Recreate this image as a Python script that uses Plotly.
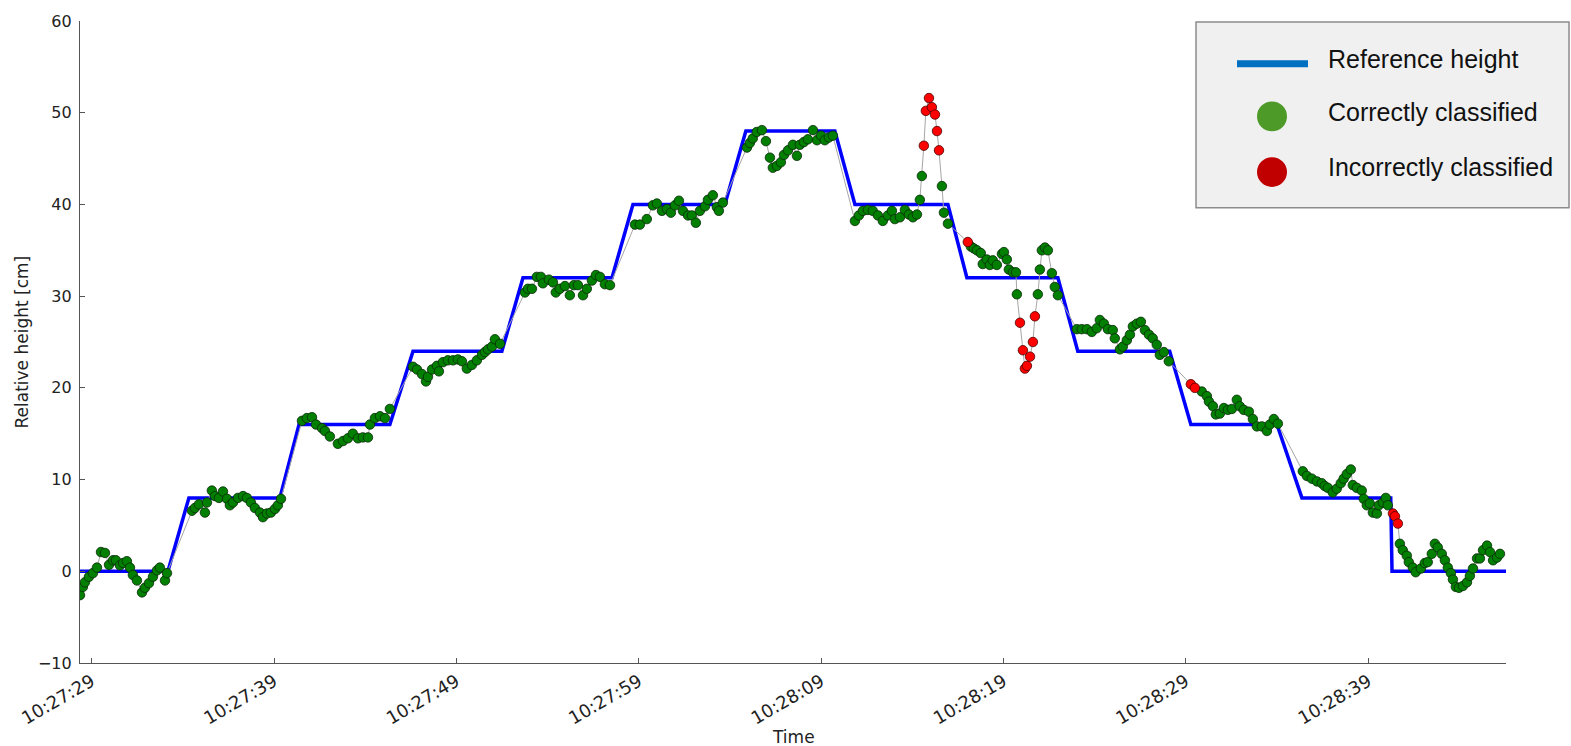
import datetime as dt
import plotly.graph_objects as go

# Clock start of the recording (tick "10:27:29")
START = dt.datetime(2016, 1, 1, 10, 27, 29)

# Reference (commanded) height profile: seconds after start, height in cm
ref_sec = [-0.64, 4.18, 5.33, 10.32, 11.37, 16.35, 17.62, 22.49, 23.65, 28.53,
           29.68, 34.72, 35.87, 40.75, 41.85, 46.95, 47.99, 52.98, 54.07, 59.11,
           60.27, 64.99, 66.36, 71.23, 71.30, 77.55]
ref_cm = [0, 0, 8, 8, 16, 16, 24, 24, 32, 32,
          40, 40, 48, 48, 40, 40, 32, 32, 24, 24,
          16, 16, 8, 8, 0, 0]

# Estimated heights that were classified correctly
ok_sec = [
    -0.64, -0.48, -0.37, -0.15, 0.07, 0.29, 0.51, 0.73, 0.95, 1.17, 1.33, 1.55, 1.72,
    1.93, 2.10, 2.26, 2.48, 2.76, 2.92, 3.14, 3.36, 3.58, 3.74, 4.02, 4.13,
    5.50, 5.66, 5.88, 6.21, 6.32, 6.59, 6.76, 6.98, 7.20, 7.42, 7.58, 7.75, 8.02,
    8.30, 8.51, 8.73, 8.95, 9.23, 9.39, 9.61, 9.83, 10.05, 10.21, 10.38,
    11.53, 11.80, 12.08, 12.30, 12.63, 12.79, 13.06, 13.50, 13.78, 14.05, 14.32,
    14.60, 14.87, 15.15, 15.26, 15.53, 15.81, 16.08, 16.35,
    17.62, 17.84, 18.11, 18.33, 18.44, 18.66, 18.93, 19.04, 19.26, 19.53, 19.81,
    20.08, 20.30, 20.57, 20.85, 21.12, 21.40, 21.56, 21.73, 21.95, 22.11, 22.39,
    23.76, 23.92, 24.14, 24.41, 24.63, 24.74, 25.07, 25.29, 25.45, 25.67, 25.95,
    26.22, 26.44, 26.66, 26.94, 27.15, 27.43, 27.65, 27.87, 28.14, 28.42,
    29.79, 30.06, 30.44, 30.77, 30.99, 31.27, 31.54, 31.76, 31.98, 32.20, 32.42,
    32.70, 32.91, 33.13, 33.35, 33.63, 33.79, 34.06, 34.28, 34.39, 34.61,
    35.93, 36.09, 36.25, 36.47, 36.75, 36.97, 37.19, 37.35, 37.57, 37.79, 37.96,
    38.18, 38.45, 38.67, 38.83, 39.05, 39.27, 39.55, 39.77, 39.99, 40.20, 40.42, 40.64,
    41.85, 42.07, 42.29, 42.56, 42.83, 43.11, 43.38, 43.66, 43.88, 44.04, 44.32,
    44.59, 44.81, 45.03, 45.25, 45.41, 45.52,
    46.62, 46.73, 46.95,
    48.21, 48.37, 48.54, 48.75, 48.86, 49.08, 49.25, 49.41, 49.63, 49.91, 50.02,
    50.18, 50.29, 50.51, 50.68, 50.73,
    51.88, 51.99, 52.10, 52.27, 52.43, 52.65, 52.81, 52.98,
    54.02, 54.29, 54.57, 54.84, 55.11, 55.28, 55.50, 55.72, 55.99, 56.10, 56.38,
    56.54, 56.76, 56.93, 57.09, 57.31, 57.53, 57.75, 57.97, 58.18, 58.40, 58.57,
    58.79, 59.06,
    60.87, 61.15, 61.26, 61.48, 61.64, 61.86, 62.08, 62.30, 62.52, 62.79, 62.95,
    63.17, 63.45, 63.67, 63.89, 64.16, 64.44, 64.60, 64.82, 65.04,
    66.41, 66.63, 66.90, 67.18, 67.45, 67.61, 67.78, 68.05, 68.27, 68.49, 68.65,
    68.82, 69.04, 69.15, 69.37, 69.64, 69.75, 69.92, 70.08, 70.25, 70.47, 70.58,
    70.80, 70.96, 71.07,
    71.73, 71.89, 72.11, 72.22, 72.44, 72.60, 72.88, 73.10, 73.26, 73.48, 73.65,
    73.81, 74.03, 74.20, 74.36, 74.53, 74.64, 74.80, 74.97, 75.19, 75.41, 75.57,
    75.74, 75.96, 76.12, 76.29, 76.51, 76.67, 76.84, 77.06, 77.22,
]
ok_cm = [
    -2.6, -1.7, -1.2, -0.6, -0.2, 0.4, 2.1, 2.0, 0.7, 1.2, 1.2, 0.65, 0.9,
    1.1, 0.4, -0.4, -1.0, -2.3, -1.8, -1.3, -0.6, 0.1, 0.4, -1.0, -0.2,
    6.6, 6.9, 7.3, 6.4, 7.5, 8.8, 8.2, 8.0, 8.7, 7.9, 7.2, 7.5, 8.0,
    8.2, 8.0, 7.5, 6.9, 6.4, 5.9, 6.3, 6.4, 6.8, 7.2, 7.9,
    16.4, 16.7, 16.8, 16.0, 15.6, 15.3, 14.7, 13.9, 14.2, 14.5, 15.0,
    14.5, 14.6, 14.6, 16.0, 16.7, 16.9, 16.7, 17.7,
    22.3, 22.0, 21.5, 20.7, 21.2, 22.0, 22.4, 21.8, 22.8, 23.0, 23.0,
    23.1, 22.9, 22.1, 22.5, 23.0, 23.6, 23.9, 24.2, 24.5, 25.3, 24.8,
    30.4, 30.8, 30.8, 32.1, 32.1, 31.4, 31.8, 31.5, 30.4, 30.8, 31.1,
    30.1, 31.2, 31.2, 30.1, 30.8, 31.7, 32.3, 32.1, 31.3, 31.2,
    37.8, 37.8, 38.4, 39.9, 40.1, 39.3, 39.5, 39.1, 39.9, 40.4, 39.3,
    38.8, 38.8, 38.0, 39.3, 39.8, 40.5, 41.0, 39.7, 39.3, 40.2,
    46.2, 46.7, 47.2, 47.9, 48.1, 46.9, 45.1, 44.0, 44.2, 44.6, 45.4,
    45.9, 46.5, 45.3, 46.5, 46.8, 47.1, 48.1, 47.0, 47.5, 47.0, 47.3, 47.5,
    38.2, 38.8, 39.3, 39.4, 39.3, 38.8, 38.2, 38.8, 39.3, 38.4, 38.6,
    39.4, 38.9, 38.6, 38.9, 40.5, 43.1,
    42.0, 39.1, 37.9,
    35.4, 35.2, 35.0, 34.7, 33.5, 34.0, 33.4, 33.9, 33.4, 34.6, 34.8,
    34.0, 32.9, 32.6, 32.6, 30.2,
    30.2, 32.9, 35.0, 35.3, 35.0, 32.5, 31.0, 30.1,
    26.4, 26.4, 26.4, 26.1, 26.5, 27.4, 27.0, 26.4, 26.3, 25.4, 24.2,
    24.5, 25.2, 25.8, 26.7, 27.0, 27.2, 26.3, 25.8, 25.4, 24.7, 23.6,
    23.9, 22.9,
    19.6, 19.1, 18.5, 18.0, 17.1, 17.2, 17.8, 17.6, 17.7, 18.7, 18.0,
    17.6, 17.4, 16.6, 15.8, 15.8, 15.3, 16.0, 16.6, 16.1,
    10.9, 10.4, 10.1, 9.8, 9.6, 9.3, 9.1, 8.6, 9.0, 9.6, 10.1,
    10.6, 11.1, 9.4, 9.1, 8.8, 7.9, 7.2, 7.4, 6.4, 6.3, 7.2,
    7.5, 8.0, 7.2,
    3.0, 2.3, 1.7, 1.0, 0.4, -0.1, 0.3, 0.9, 1.0, 1.9, 3.0,
    2.6, 1.9, 1.2, 0.4, -0.2, -0.9, -1.7, -1.8, -1.6, -1.2, -0.5,
    0.3, 1.4, 1.4, 2.3, 2.8, 2.1, 1.2, 1.5, 1.9,
]

# Estimated heights that were classified incorrectly
bad_sec = [45.63, 45.74, 45.91, 46.07, 46.24, 46.35, 46.46,
           48.04,
           50.90, 51.06, 51.17, 51.28, 51.45, 51.61, 51.72,
           60.27, 60.49,
           71.35, 71.46, 71.62]
bad_cm = [46.4, 50.2, 51.6, 50.6, 49.8, 48.0, 45.9,
          35.9,
          27.1, 24.1, 22.1, 22.4, 23.4, 25.0, 27.8,
          20.4, 20.0,
          6.3, 6.0, 5.2]

y_ticks = [-10, 0, 10, 20, 30, 40, 50, 60]


def stamp(sec):
    return START + dt.timedelta(seconds=sec)


# full measurement track in time order, for the thin connecting line
track = sorted(zip(ok_sec + bad_sec, ok_cm + bad_cm))
track_sec = [p[0] for p in track]
track_cm = [p[1] for p in track]

fig = go.Figure()

fig.add_trace(go.Scatter(
    x=[stamp(s) for s in ref_sec], y=ref_cm, mode="lines",
    line=dict(color="#0000ff", width=3.5), name="Reference height",
    showlegend=False, hoverinfo="skip"))

fig.add_trace(go.Scatter(
    x=[stamp(s) for s in track_sec], y=track_cm, mode="lines",
    line=dict(color="#a6a6a6", width=1), showlegend=False, hoverinfo="skip"))

fig.add_trace(go.Scatter(
    x=[stamp(s) for s in ok_sec], y=ok_cm, mode="markers",
    marker=dict(color="#007f00", size=9.5, line=dict(color="#0a2a0a", width=0.8)),
    name="Correctly classified", showlegend=False))

fig.add_trace(go.Scatter(
    x=[stamp(s) for s in bad_sec], y=bad_cm, mode="markers",
    marker=dict(color="#ff0000", size=9.5, line=dict(color="#4a0000", width=0.8)),
    name="Incorrectly classified", showlegend=False))

# plot area in pixels: x 80..1506, y 17..663
L, R, T, B = 80, 1506, 17, 663


def px(x):
    return (x - L) / (R - L)


def py(y):
    return (B - y) / (B - T)


fig.update_layout(
    width=1571, height=746,
    margin=dict(l=L, r=1571 - R, t=T, b=746 - B),
    paper_bgcolor="white", plot_bgcolor="white",
    showlegend=False,
    xaxis=dict(
        type="date",
        range=[stamp(ref_sec[0]), stamp(ref_sec[-1])],
        tick0=stamp(0), dtick=10000, tickformat="%H:%M:%S",
        tickangle=-30, ticks="inside", ticklen=5, tickcolor="#555555",
        showline=True, linecolor="#555555", linewidth=1.3,
        showgrid=False, zeroline=False,
        tickfont=dict(family="DejaVu Sans", size=18, color="#222222"),
    ),
    yaxis=dict(
        range=[-10, 60], tickvals=y_ticks,
        ticks="inside", ticklen=5, tickcolor="#555555",
        showline=True, linecolor="#555555", linewidth=1.3,
        showgrid=False, zeroline=False,
        tickfont=dict(family="DejaVu Sans", size=16, color="#222222"),
        ticklabelstandoff=4,
    ),
)

# axis titles
fig.add_annotation(text="Time", x=0.5, y=py(737), xref="paper", yref="paper",
                   xanchor="center", yanchor="middle", showarrow=False,
                   font=dict(family="DejaVu Sans", size=17, color="#222222"))
fig.add_annotation(text="Relative height [cm]", x=px(21.5), y=0.5,
                   xref="paper", yref="paper", textangle=-90,
                   xanchor="center", yanchor="middle", showarrow=False,
                   font=dict(family="DejaVu Sans", size=17, color="#222222"))

# legend panel
fig.add_shape(type="rect", xref="paper", yref="paper",
              x0=px(1196), x1=px(1569), y0=py(205), y1=py(18),
              fillcolor="#f0f0f0", line=dict(color="#8c8c8c", width=1.5),
              layer="above")
fig.add_shape(type="line", xref="paper", yref="paper",
              x0=px(1237), x1=px(1308), y0=py(60), y1=py(60),
              line=dict(color="#0070c0", width=7), layer="above")
fig.add_shape(type="circle", xref="paper", yref="paper",
              x0=px(1257), x1=px(1287), y0=py(128), y1=py(98),
              fillcolor="#4e9a28", line=dict(width=0), layer="above")
fig.add_shape(type="circle", xref="paper", yref="paper",
              x0=px(1257), x1=px(1287), y0=py(184), y1=py(154),
              fillcolor="#c00000", line=dict(width=0), layer="above")

legend_font = dict(family="Liberation Sans, Arial", size=25, color="#111111")
for label, ypix in [("Reference height", 55),
                    ("Correctly classified", 109),
                    ("Incorrectly classified", 164)]:
    fig.add_annotation(text=label, x=px(1326), y=py(ypix), xref="paper",
                       yref="paper", xanchor="left", yanchor="middle",
                       showarrow=False, font=legend_font)

fig.write_html("out.html")
